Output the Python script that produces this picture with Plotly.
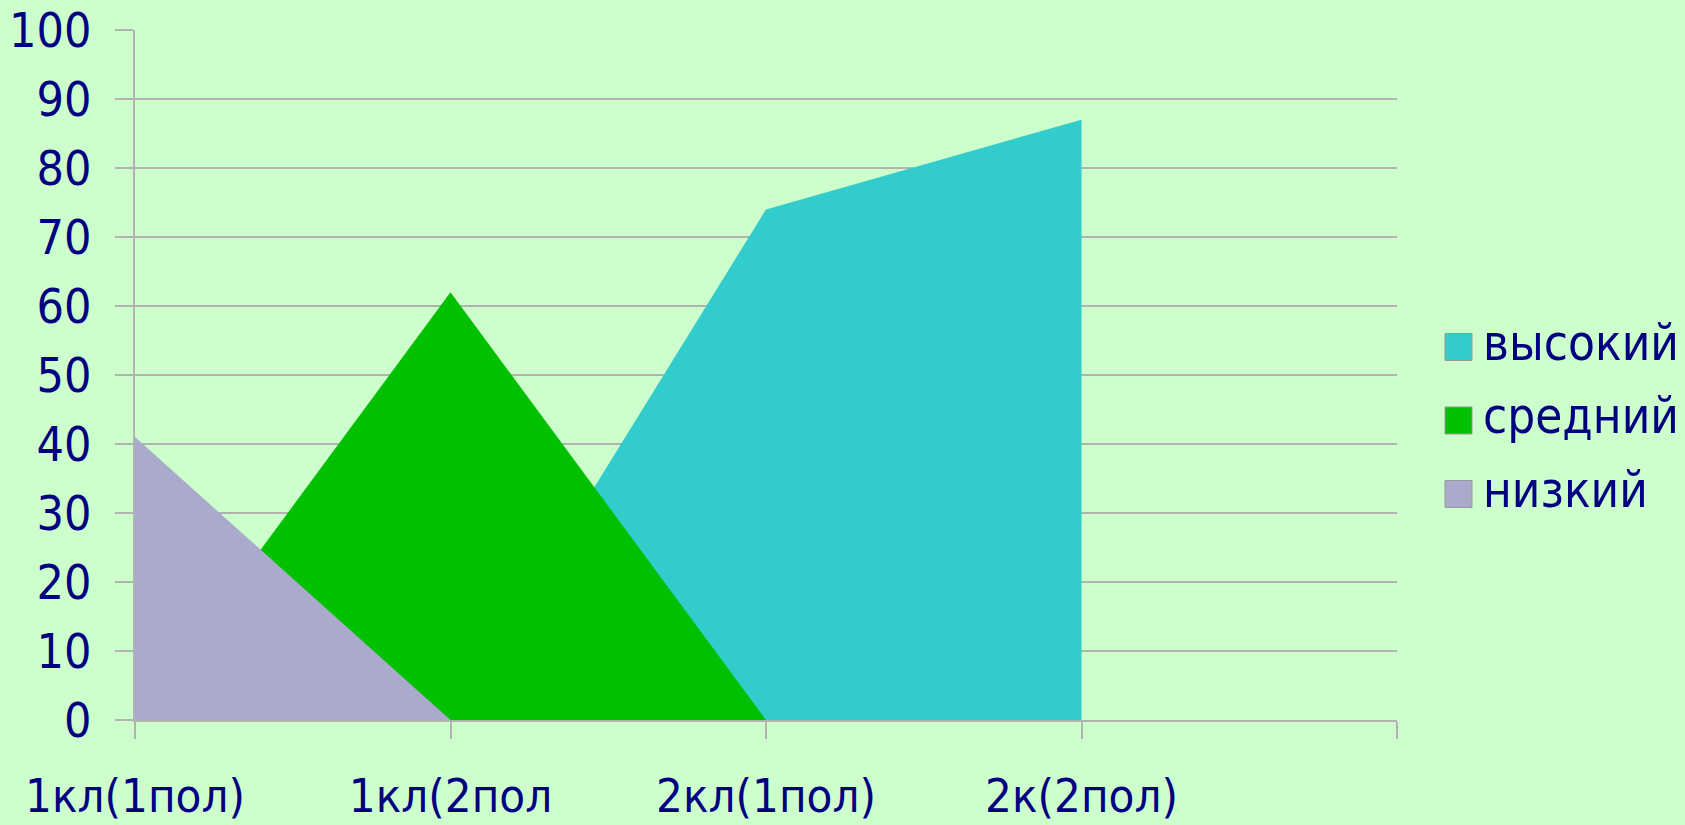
import plotly.graph_objects as go

categories = ["1кл(1пол)", "1кл(2пол", "2кл(1пол)", "2к(2пол)"]
series_names = ["высокий", "средний", "низкий"]
high_values = [0, 0, 74, 87]
mid_values = [0, 62, 0, 0]
low_values = [41, 0, 0, 0]
y_ticks = list(range(0, 101, 10))

colors = ["#33CCCC", "#00C000", "#AAAACC"]
series_values = [high_values, mid_values, low_values]
FONT = "Tahoma, 'DejaVu Sans Condensed', 'Liberation Sans', sans-serif"
NAVY = "#000080"
GRID = "#B2B2B2"

W, H = 1685, 825
L, R, T, B = 135, 1397, 30, 720

fig = go.Figure()
x_idx = list(range(len(categories)))
for name, vals, col in zip(series_names, series_values, colors):
    fig.add_trace(go.Scatter(
        x=x_idx, y=vals, name=name, mode="lines",
        line=dict(width=0, color=col), fill="tozeroy", fillcolor=col,
        showlegend=False, hoverinfo="skip"))

# manual legend (large squares like the original)
pw, ph = R - L, B - T
def px_x(px):
    return (px - L) / pw
def px_y(py):
    return (B - py) / ph

legend_centers = [347, 420.5, 494]
shapes = []
annotations = []
for name, col, cy in zip(series_names, colors, legend_centers):
    shapes.append(dict(type="rect", xref="paper", yref="paper",
                       x0=px_x(1445), x1=px_x(1472),
                       y0=px_y(cy + 13.5), y1=px_y(cy - 13.5),
                       fillcolor=col, line=dict(color="#999999", width=1)))
    annotations.append(dict(xref="paper", yref="paper", x=px_x(1481), y=px_y(cy - 4),
                            xanchor="left", yanchor="middle", showarrow=False,
                            text=name, font=dict(family=FONT, size=49, color=NAVY)))

fig.update_layout(
    template="none",
    width=W, height=H, autosize=False,
    margin=dict(l=L, r=W - R, t=T, b=H - B, pad=0),
    paper_bgcolor="#CCFFCC", plot_bgcolor="#CCFFCC",
    showlegend=False, shapes=shapes, annotations=annotations,
    xaxis=dict(range=[0, len(categories)], tickmode="array",
               tickvals=list(range(len(categories) + 1)),
               ticktext=categories + [""], automargin=False,
               showgrid=False, zeroline=False, showline=True,
               linecolor=GRID, linewidth=2,
               ticks="outside", ticklen=17, tickcolor=GRID, tickwidth=2,
               ticklabelstandoff=17,
               tickfont=dict(family=FONT, size=47, color=NAVY)),
    yaxis=dict(range=[0, 100], tickmode="array", tickvals=y_ticks,
               automargin=False,
               showgrid=True, gridcolor=GRID, gridwidth=2,
               zeroline=False, showline=True, linecolor=GRID, linewidth=2,
               ticks="outside", ticklen=18, tickcolor=GRID, tickwidth=2,
               ticklabelstandoff=14,
               tickfont=dict(family=FONT, size=48, color=NAVY)),
)

fig.write_html("out.html", config={"displayModeBar": False},
               post_script="document.body.style.margin='0';")
